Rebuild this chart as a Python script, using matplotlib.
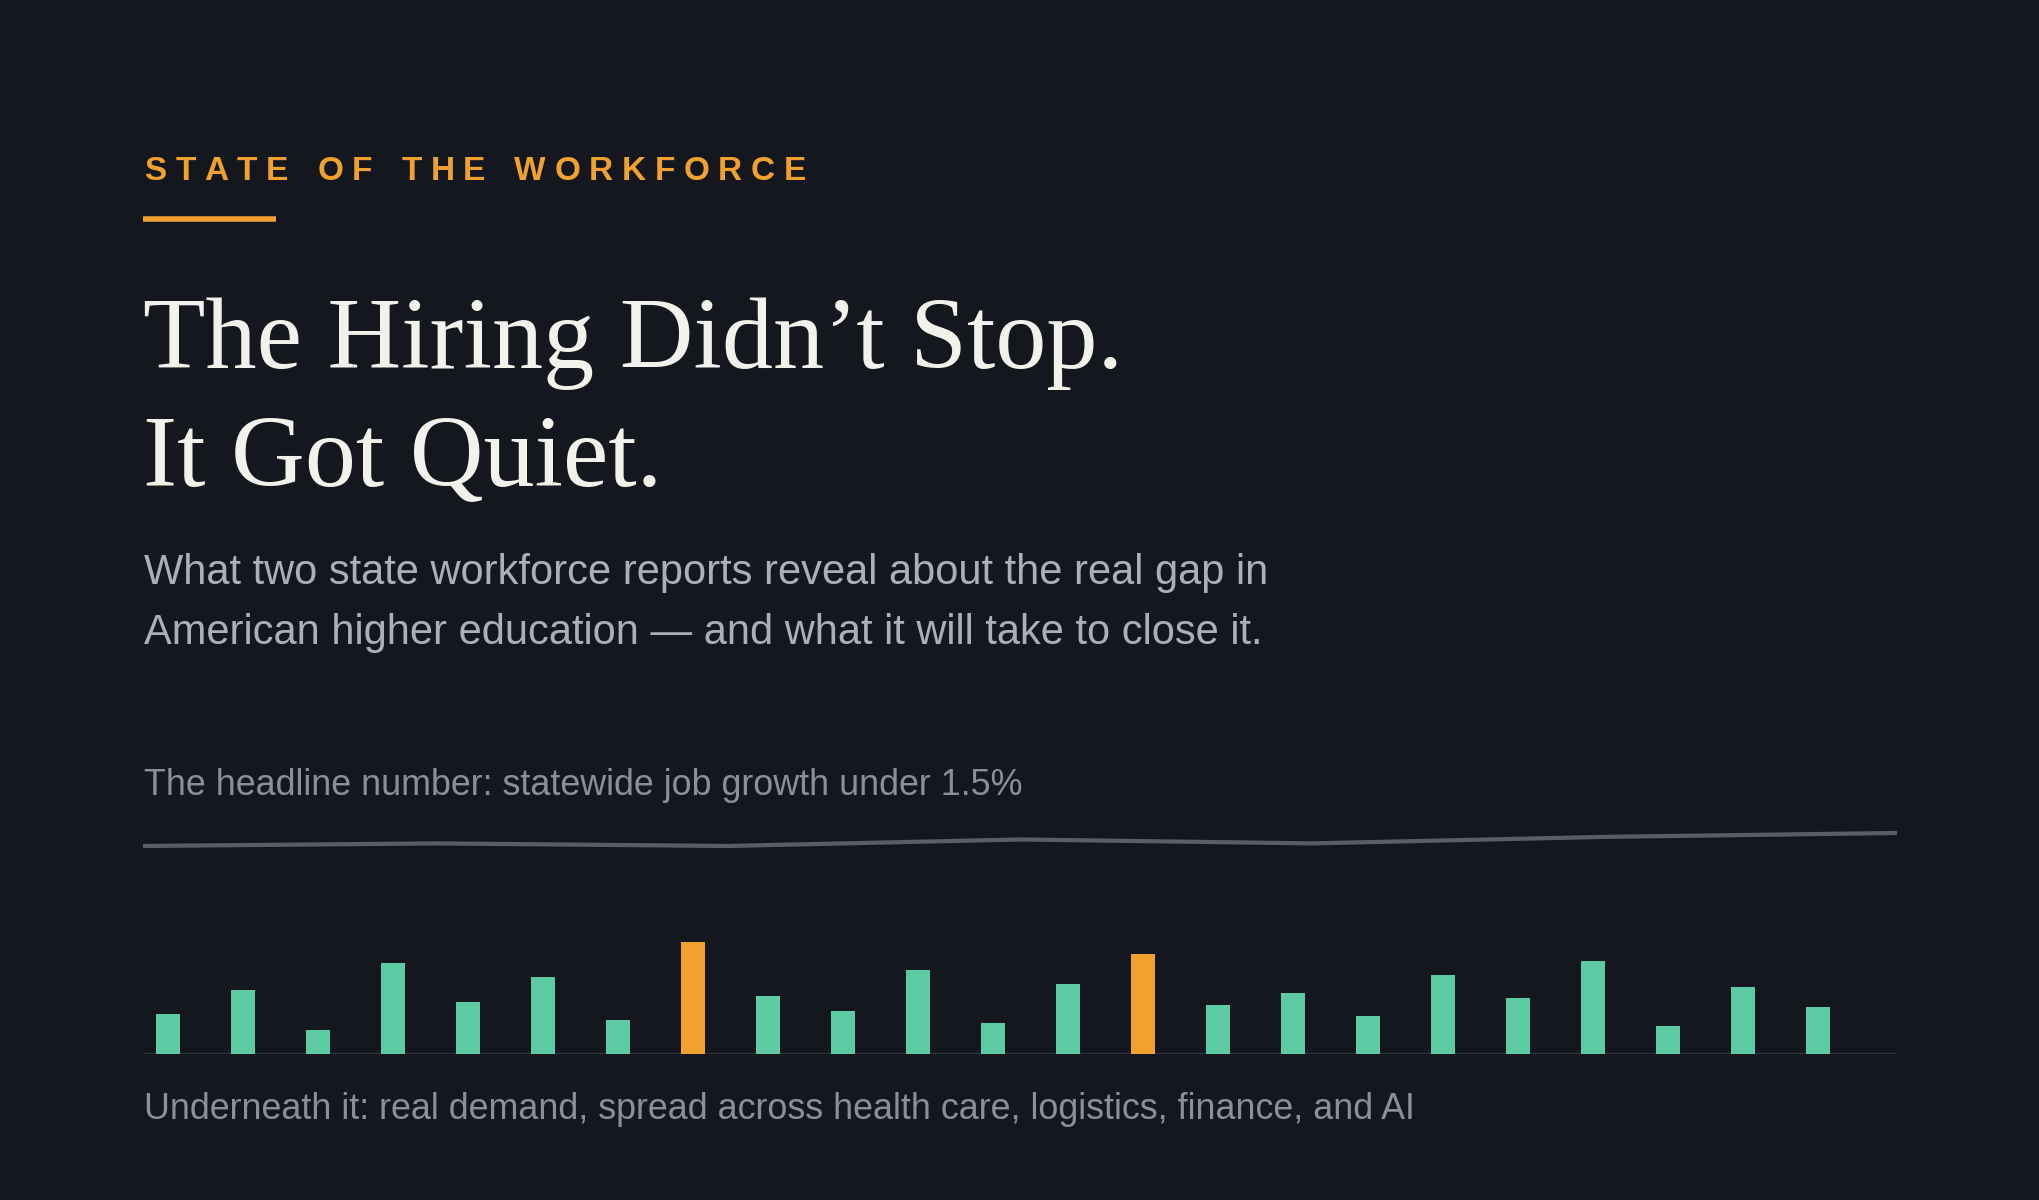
import matplotlib
matplotlib.use('Agg')
import matplotlib.pyplot as plt

BG = '#14181e'
ORANGE = '#f0a12e'
TEAL = '#5ccba3'
GREY_TXT = '#8b9097'
SUB_TXT = '#aab0b8'

# headline job-growth line (relative level) across the year
line_x = [0, 1, 2, 3, 4, 5, 6]
line_vals = [10, 12, 10, 15, 12, 17, 20]

# demand bars by occupation group
bar_vals = [31, 49, 19, 70, 40, 59, 26, 86, 45, 33, 65, 24, 54, 77,
            38, 47, 29, 61, 43, 72, 22, 52, 36]
highlight = [7, 13]

W, H = 1568, 922  # layout grid used for positioning


def fy(y):
    return 1 - y / H


def fx(x):
    return x / W


fig = plt.figure(figsize=(20.4, 12), dpi=100)
fig.patch.set_facecolor(BG)

# kicker, letter-spaced
kicker = 'STATE OF THE WORKFORCE'
fig.canvas.draw()
r = fig.canvas.get_renderer()
x = fx(111)
for ch in kicker:
    t = fig.text(x, fy(138), ch, color=ORANGE, fontsize=24, fontweight='bold',
                 family='Liberation Sans', va='baseline', ha='left')
    w = t.get_window_extent(renderer=r).width if ch != ' ' else 12
    x += (w + 8.6) / fig.bbox.width

fig.add_artist(plt.Line2D([fx(110), fx(212)], [fy(168), fy(168)], color=ORANGE,
                          lw=4, solid_capstyle='butt'))

fig.text(fx(110), fy(283), 'The Hiring Didn\u2019t Stop.', color='#f3f1ec',
         fontsize=73.5, family='Liberation Serif', va='baseline')
fig.text(fx(110), fy(373), 'It Got Quiet.', color='#f3f1ec',
         fontsize=73.5, family='Liberation Serif', va='baseline')

fig.text(fx(111), fy(449), 'What two state workforce reports reveal about the real gap in',
         color=SUB_TXT, fontsize=30, family='Liberation Sans', va='baseline')
fig.text(fx(111), fy(495), 'American higher education \u2014 and what it will take to close it.',
         color=SUB_TXT, fontsize=30, family='Liberation Sans', va='baseline')

fig.text(fx(111), fy(611), 'The headline number: statewide job growth under 1.5%',
         color=GREY_TXT, fontsize=25.8, family='Liberation Sans', va='baseline')
fig.text(fx(111), fy(860), 'Underneath it: real demand, spread across health care, logistics, finance, and AI',
         color=GREY_TXT, fontsize=25.8, family='Liberation Sans', va='baseline')

# line panel
axl = fig.add_axes([fx(110), fy(660), fx(1458 - 110), 30 / H])
axl.plot(line_x, line_vals, color='#5a5f67', lw=3, solid_capstyle='round')
axl.set_xlim(0, 6)
axl.set_ylim(0, 30)
axl.axis('off')

# bar panel
axb = fig.add_axes([fx(110), fy(810), fx(1458 - 110), 110 / H])
cols = [ORANGE if i in highlight else TEAL for i in range(len(bar_vals))]
xs = list(range(len(bar_vals)))
axb.bar(xs, bar_vals, width=0.32, color=cols, zorder=3)
axb.axhline(0, color='#2e333b', lw=2.5, zorder=2)
axb.set_xlim(-0.33, 23.05)
axb.set_ylim(0, 110)
axb.axis('off')

fig.savefig('out.png', dpi=100, facecolor=BG)
